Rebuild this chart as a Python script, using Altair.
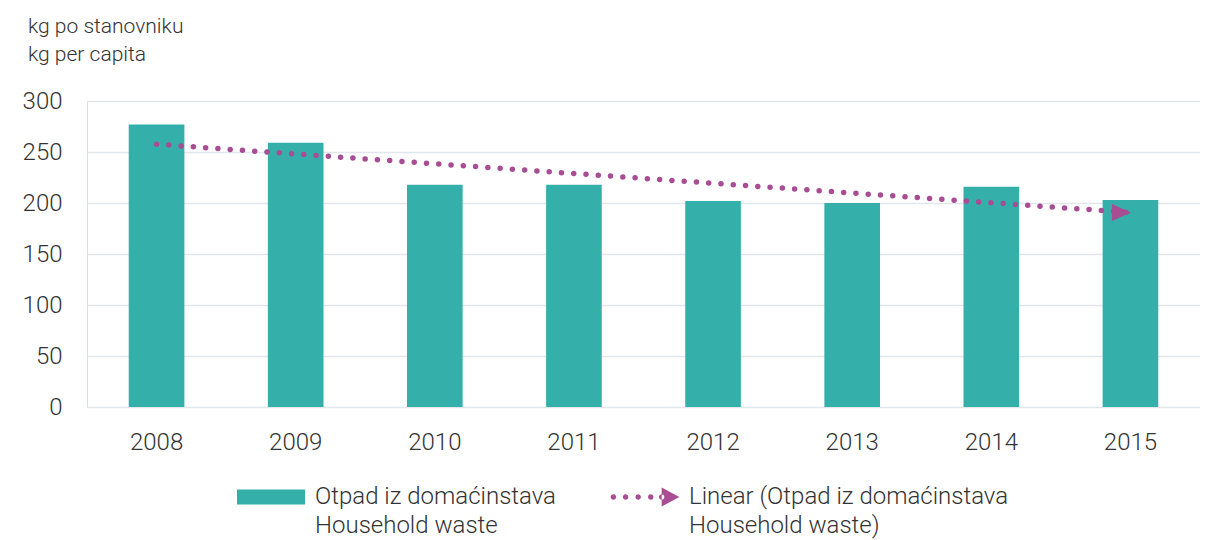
import altair as alt
import pandas as pd

years = [2008, 2009, 2010, 2011, 2012, 2013, 2014, 2015]
household_waste = [277, 259, 218, 218, 202, 200, 216, 203]

series_names = ["Otpad iz domaćinstava|Household waste",
                "Linear (Otpad iz domaćinstava|Household waste)"]
title_lines = ["kg po stanovniku", "kg per capita"]
y_ticks = [0, 50, 100, 150, 200, 250, 300]

TEAL = "#35AFAA"
MAGENTA = "#A84C94"
TEXT = "#333333"
GRID = "#E1E6EC"
FONT = "Roboto"

df = pd.DataFrame({"year": years, "value": household_waste})

# legend symbols (unit-square custom paths)
rect_path = "M-1,-0.22 L1,-0.22 L1,0.22 L-1,0.22 Z"
r = 0.08
def dot(cx):
    return f"M{cx - r},0 A{r},{r} 0 1,0 {cx + r},0 A{r},{r} 0 1,0 {cx - r},0 Z"
arrow_path = "".join(dot(c) for c in [-0.93, -0.57, -0.2, 0.17, 0.49]) + "M0.49,-0.28 L1.01,0 L0.49,0.28 Z"

x_enc = alt.X("year:O", title=None,
              scale=alt.Scale(paddingInner=0.6, paddingOuter=0.3),
              axis=alt.Axis(labelAngle=0, labelFontSize=24, labelFont=FONT, labelFontWeight=300,
                            labelColor=TEXT, labelPadding=23, ticks=False, domain=False, grid=False))
y_scale = alt.Scale(domain=[0, 300])

base = alt.Chart(df)

bars = base.mark_bar(color=TEAL).encode(
    x=x_enc,
    y=alt.Y("value:Q", title=None, scale=y_scale,
            axis=alt.Axis(values=y_ticks, labelFontSize=24, labelFont=FONT, labelFontWeight=300,
                          labelColor=TEXT, labelPadding=25, ticks=False, domain=False,
                          gridColor=GRID, gridWidth=1.5)),
)

reg = base.transform_regression("year", "value")

trend = reg.mark_line(color=MAGENTA, strokeWidth=5.5, strokeDash=[0, 12.3], strokeCap="round").encode(
    x=alt.X("year:O"),
    y=alt.Y("value:Q", scale=y_scale),
)

arrow = reg.transform_filter(alt.datum.year == 2015).mark_point(
    shape="M-1,-0.9 L1,0 L-1,0.9 Z", size=361, filled=True, color=MAGENTA, opacity=1, xOffset=-9
).encode(
    x=alt.X("year:O"),
    y=alt.Y("value:Q", scale=y_scale),
)

legend_layer = base.transform_filter("false").transform_calculate(series="'x'").mark_point(
    filled=True, opacity=1
).encode(
    x=alt.X("year:O"),
    y=alt.Y("value:Q", scale=y_scale),
    color=alt.Color("series:N", scale=alt.Scale(domain=series_names, range=[TEAL, MAGENTA]),
                    legend=alt.Legend(title=None, orient="none", legendX=150, legendY=362,
                                      direction="horizontal", columns=2, columnPadding=54,
                                      symbolSize=4624, symbolStrokeWidth=0, symbolOpacity=1,
                                      labelExpr="split(datum.label, '|')",
                                      labelFontSize=24, labelFont=FONT, labelFontWeight=300,
                                      labelColor=TEXT, labelOffset=10, labelLimit=400, padding=0)),
    shape=alt.Shape("series:N", scale=alt.Scale(domain=series_names, range=[rect_path, arrow_path])),
)

chart = alt.layer(bars, trend, arrow, legend_layer).properties(
    width=1113,
    height=306,
    autosize=alt.AutoSizeParams(type="none"),
    padding={"left": 79, "top": 93, "right": 0, "bottom": 132},
    title=alt.TitleParams(text=title_lines, anchor="start", frame="group", fontSize=21, font=FONT,
                          fontWeight=300, color=TEXT, dx=-59, offset=24, lineHeight=28),
).configure_view(stroke=None).configure(style={"guide-label": {"lineHeight": 29}})

chart.save("out.html", embed_options={"renderer": "svg", "actions": False})
